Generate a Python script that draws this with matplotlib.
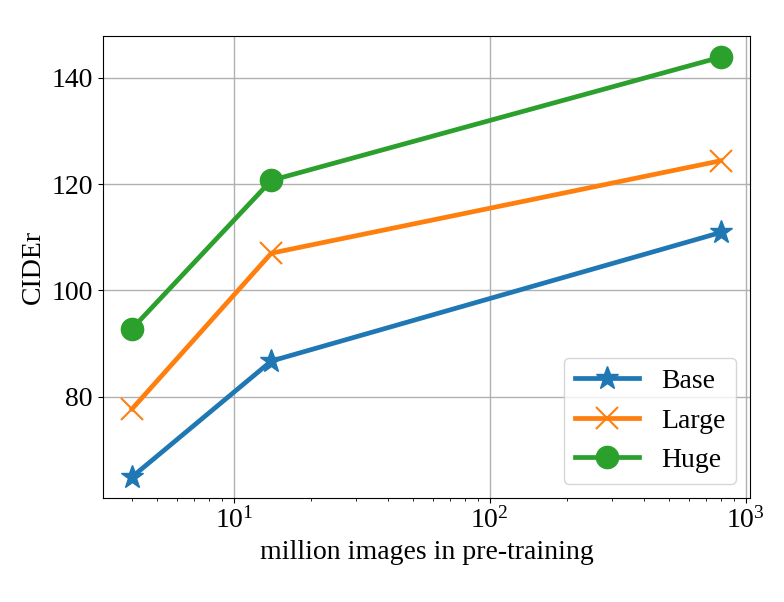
import matplotlib
matplotlib.use("Agg")
import matplotlib.pyplot as plt

images = [4, 14, 800]
base = [64.9, 86.7, 110.9]
large = [77.7, 107.0, 124.4]
huge = [92.8, 120.7, 143.9]

plt.rcParams['font.family'] = ['Liberation Serif', 'DejaVu Serif']
plt.rcParams['mathtext.fontset'] = 'stix'

fig = plt.figure(figsize=(7.84, 6.02), dpi=100)
ax = fig.add_axes([0.131, 0.173, 0.826, 0.767])

lw = 3.4
ax.plot(images, base, '-*', color='#1f77b4', lw=lw, markersize=17, label='Base')
ax.plot(images, large, '-x', color='#ff7f0e', lw=lw, markersize=16, mew=1.5, label='Large')
ax.plot(images, huge, '-o', color='#2ca02c', lw=lw, markersize=16, label='Huge')

ax.set_xscale('log')
ax.grid(True, which='major', color='#b0b0b0', lw=1.0)
ax.set_yticks([80, 100, 120, 140])
ax.tick_params(labelsize=20)
ax.set_xlabel('million images in pre-training', fontsize=20)
ax.set_ylabel('CIDEr', fontsize=20)
ax.legend(loc='lower right', fontsize=20, handlelength=2.3)

fig.savefig('out.png', dpi=100)
